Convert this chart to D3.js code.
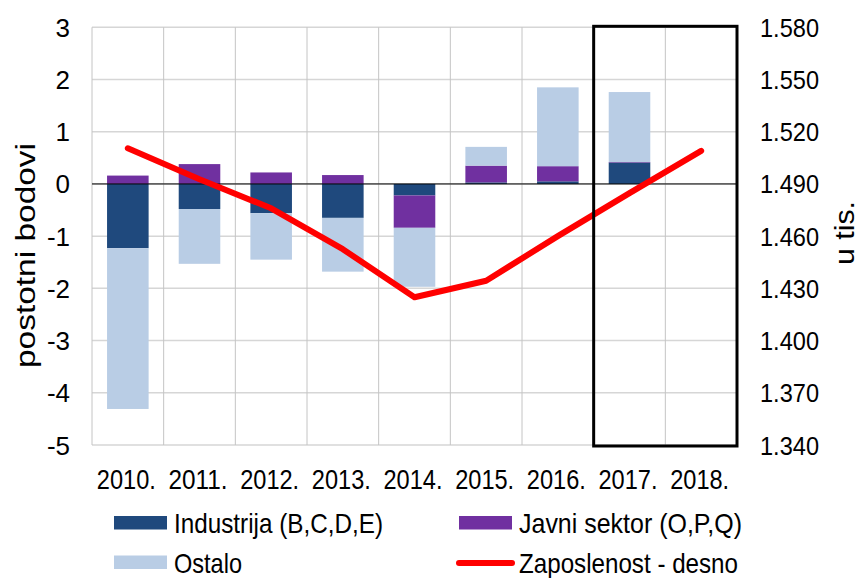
<!DOCTYPE html>
<html>
<head>
<meta charset="utf-8">
<script src="https://cdn.jsdelivr.net/npm/d3@7"></script>
<style>
  body { margin: 0; background: #fff; }
  text { font-family: "Liberation Sans", Arial, sans-serif; fill: #000; }
</style>
</head>
<body>
<div id="graph"></div>
<script>
// data
const years = ["2010.", "2011.", "2012.", "2013.", "2014.", "2015.", "2016.", "2017.", "2018."];
const barYears = ["2010.", "2011.", "2012.", "2013.", "2014.", "2015.", "2016.", "2017."];
const industrija = [-1.23, -0.48, -0.56, -0.65, -0.22, 0.03, 0.05, 0.41];
const javniSektor = [0.16, 0.38, 0.22, 0.17, -0.62, 0.32, 0.29, 0.01];
const ostalo = [-3.08, -1.05, -0.89, -1.03, -1.13, 0.36, 1.51, 1.34];
const zaposlenost = [1510.5, 1492.7, 1476.0, 1452.5, 1424.9, 1434.4, 1460.0, 1484.7, 1509.0];
const leftTicks = [-5, -4, -3, -2, -1, 0, 1, 2, 3];
const rightTicks = [1340, 1370, 1400, 1430, 1460, 1490, 1520, 1550, 1580];

const width = 859, height = 578;
const margin = {left: 92, right: 122, top: 27.3, bottom: 133};

(function() {
    let svg = d3.select("#graph")
        .append("svg")
        .attr("width", width)
        .attr("height", height);

    let x = d3.scaleBand()
        .domain(years)
        .range([margin.left, width - margin.right])
        .padding(0);

    let y = d3.scaleLinear()
        .domain([-5, 3])
        .range([height - margin.bottom, margin.top]);

    let y2 = d3.scaleLinear()
        .domain([1340, 1580])
        .range([height - margin.bottom, margin.top]);

    let hr = d3.formatLocale({decimal: ",", thousands: ".", grouping: [3], currency: ["", ""]});
    let fmt = hr.format(",");

    // gridlines
    let grid = svg.append("g");
    grid.selectAll(".hgrid")
        .data(leftTicks)
        .enter().append("line")
        .attr("x1", x.range()[0]).attr("x2", x.range()[1])
        .attr("y1", d => y(d)).attr("y2", d => y(d))
        .attr("stroke", "#d6d6d6")
        .attr("stroke-width", 1.5);
    grid.selectAll(".vgrid")
        .data(years.concat(["end"]).map((d, i) => i))
        .enter().append("line")
        .attr("x1", i => x.range()[0] + i * x.bandwidth())
        .attr("x2", i => x.range()[0] + i * x.bandwidth())
        .attr("y1", y(3)).attr("y2", y(-5))
        .attr("stroke", "#c4c4c4")
        .attr("stroke-width", 1);

    // stacked bars
    let rows = barYears.map(function(yr, i) {
        return {year: yr, ind: industrija[i], jav: javniSektor[i], ost: ostalo[i]};
    });
    let keys = ["ind", "jav", "ost"];
    let colors = {ind: "#1f497d", jav: "#7030a0", ost: "#b9cde5"};
    let series = d3.stack().keys(keys).offset(d3.stackOffsetDiverging)(rows);

    let barW = x.bandwidth() * 0.58;
    svg.append("g")
        .selectAll("g")
        .data(series)
        .enter().append("g")
        .attr("fill", d => colors[d.key])
        .selectAll("rect")
        .data(d => d)
        .enter().append("rect")
        .attr("x", d => x(d.data.year) + (x.bandwidth() - barW) / 2)
        .attr("width", barW)
        .attr("y", d => y(Math.max(d[0], d[1])))
        .attr("height", d => Math.abs(y(d[0]) - y(d[1])));

    // zero line
    svg.append("line")
        .attr("x1", x.range()[0]).attr("x2", x.range()[1])
        .attr("y1", y(0)).attr("y2", y(0))
        .attr("stroke", "#000")
        .attr("stroke-width", 1);

    // employment line (right axis)
    svg.append("path")
        .datum(zaposlenost)
        .attr("fill", "none")
        .attr("stroke", "#ff0000")
        .attr("stroke-width", 6)
        .attr("stroke-linejoin", "round")
        .attr("stroke-linecap", "round")
        .attr("d", d3.line()
            .x((d, i) => x(years[i]) + x.bandwidth() / 2)
            .y(d => y2(d)));

    // forecast box around 2017-2018
    svg.append("rect")
        .attr("x", x("2017."))
        .attr("y", y(3) - 1)
        .attr("width", x.bandwidth() * 2)
        .attr("height", y(-5) - y(3) + 2)
        .attr("fill", "none")
        .attr("stroke", "#000")
        .attr("stroke-width", 3);

    // left axis labels
    svg.append("g")
        .selectAll("text")
        .data(leftTicks)
        .enter().append("text")
        .attr("x", 70)
        .attr("y", d => y(d) + 9.5)
        .attr("text-anchor", "end")
        .style("font-size", "26px")
        .text(d => d);

    // right axis labels
    svg.append("g")
        .selectAll("text")
        .data(rightTicks)
        .enter().append("text")
        .attr("x", 760)
        .attr("y", d => y2(d) + 9.5)
        .attr("textLength", 59)
        .attr("lengthAdjust", "spacingAndGlyphs")
        .style("font-size", "26px")
        .text(d => fmt(d));

    // category labels
    svg.append("g")
        .selectAll("text")
        .data(years)
        .enter().append("text")
        .attr("x", d => x(d) + x.bandwidth() / 2 - 31)
        .attr("y", 489)
        .attr("textLength", 59)
        .attr("lengthAdjust", "spacingAndGlyphs")
        .style("font-size", "27px")
        .text(d => d);

    // axis titles
    svg.append("text")
        .attr("transform", "translate(35, 368) rotate(-90)")
        .attr("textLength", 225)
        .attr("lengthAdjust", "spacingAndGlyphs")
        .style("font-size", "27px")
        .text("postotni bodovi");

    svg.append("text")
        .attr("transform", "translate(854, 265) rotate(-90)")
        .attr("textLength", 64)
        .attr("lengthAdjust", "spacingAndGlyphs")
        .style("font-size", "27px")
        .text("u tis.");

    // legend
    let legend = [
        {name: "Industrija (B,C,D,E)", type: "box", color: colors.ind, sx: 114, tx: 174, ty: 533, tw: 209},
        {name: "Javni sektor (O,P,Q)", type: "box", color: colors.jav, sx: 459, tx: 519, ty: 533, tw: 223},
        {name: "Ostalo", type: "box", color: colors.ost, sx: 114, tx: 174, ty: 572.5, tw: 68},
        {name: "Zaposlenost - desno", type: "line", color: "#ff0000", sx: 459, tx: 519, ty: 572.5, tw: 219}
    ];
    let lg = svg.append("g");
    legend.forEach(function(d) {
        if (d.type === "box") {
            lg.append("rect")
                .attr("x", d.sx).attr("y", d.ty - 17)
                .attr("width", 53).attr("height", 13.5)
                .attr("fill", d.color);
        } else {
            lg.append("line")
                .attr("x1", d.sx).attr("x2", d.sx + 53)
                .attr("y1", d.ty - 9.5).attr("y2", d.ty - 9.5)
                .attr("stroke", d.color)
                .attr("stroke-width", 6)
                .attr("stroke-linecap", "round");
        }
        lg.append("text")
            .attr("x", d.tx).attr("y", d.ty)
            .attr("textLength", d.tw)
            .attr("lengthAdjust", "spacingAndGlyphs")
            .style("font-size", "28px")
            .text(d.name);
    });
})();
</script>
</body>
</html>
